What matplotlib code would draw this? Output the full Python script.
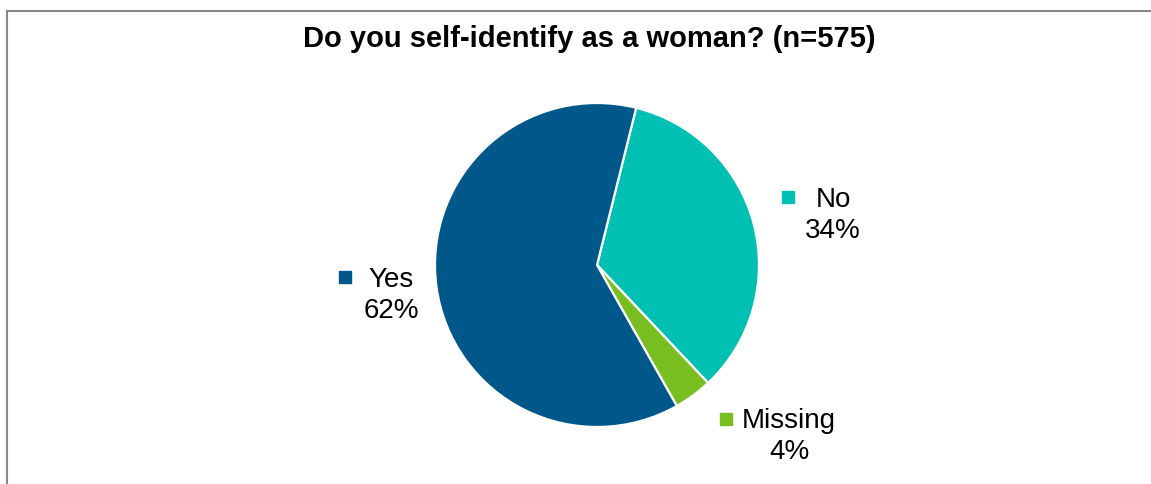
import matplotlib.pyplot as plt
from matplotlib.lines import Line2D

plt.rcParams['font.family'] = ['Liberation Sans', 'DejaVu Sans']

# survey answers (n=575)
labels = ['No', 'Missing', 'Yes']
counts = [196, 22, 357]
colors = ['#00BFB3', '#78BE20', '#00578A']

# pie geometry in pixels: centre and radius
cx, cy, r = 597, 265, 162

# label placement in pixels: text centre x, name baseline, key square centre x / y
label_pos = {'No': (833, 207, 787.5, 196.5),
             'Missing': (789, 428, 726, 418.5),
             'Yes': (391, 287, 344.5, 276.5)}

fig = plt.figure(figsize=(11.51, 4.84), dpi=100)
ax = fig.add_axes([0, 0, 1, 1])

ax.pie(counts, colors=colors, startangle=76, counterclock=False,
       wedgeprops=dict(edgecolor='white', linewidth=1.6))


def px(x, y):
    return (x - cx) / r, -(y - cy) / r


total = sum(counts)
for lab, c, col in zip(labels, counts, colors):
    tx, base, sx, sy = label_pos[lab]
    ax.text(*px(tx, base), lab, ha='center', va='baseline', fontsize=20)
    ax.text(*px(tx, base + 31), '%d%%' % round(c / total * 100),
            ha='center', va='baseline', fontsize=20)
    ax.plot(*px(sx, sy), marker='s', markersize=8, color=col, linestyle='none')

ax.set_xlim(-cx / r, (1151 - cx) / r)
ax.set_ylim(-(484 - cy) / r, cy / r)
ax.set_aspect('equal')
ax.axis('off')

fig.text(589 / 1151, 1 - 47 / 484, 'Do you self-identify as a woman? (n=575)',
         ha='center', va='baseline', fontsize=21, fontweight='bold')

# chart frame (only top and left edges visible in the crop)
fig.add_artist(Line2D([7 / 1151, 1], [1 - 10.5 / 484, 1 - 10.5 / 484], color='#898989', linewidth=1.5))
fig.add_artist(Line2D([7 / 1151, 7 / 1151], [0, 1 - 10.5 / 484], color='#898989', linewidth=1.5))

fig.savefig('out.png', dpi=100)
